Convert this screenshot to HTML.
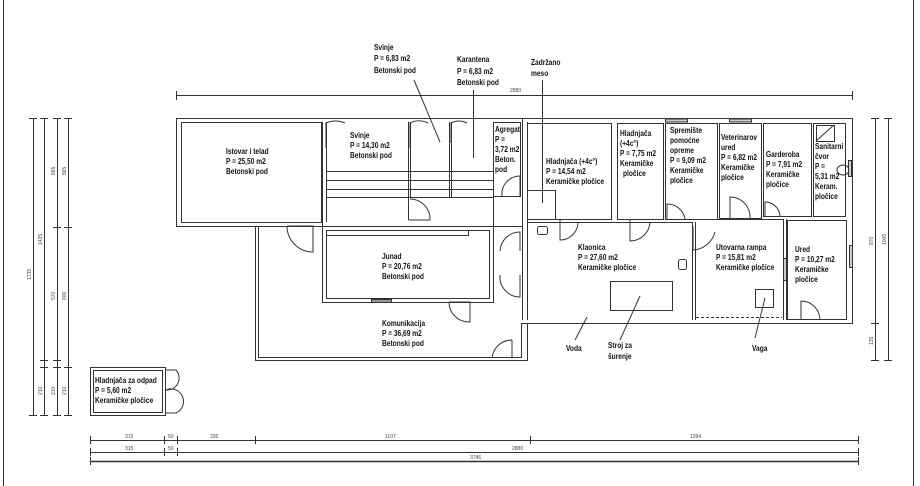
<!DOCTYPE html>
<html><head><meta charset="utf-8"><style>
html,body{margin:0;padding:0;background:#fff;}
svg{display:block;}
text{font-family:"Liberation Sans Narrow","Liberation Sans",sans-serif;font-size:8.5px;fill:#111;font-weight:bold;}
text:not(.d){transform-box:fill-box;transform-origin:0 50%;transform:scaleX(0.78);}
.d{font-size:5px;fill:#444;font-weight:normal;}
</style></head><body>
<svg width="920" height="486" viewBox="0 0 920 486" xmlns="http://www.w3.org/2000/svg">
<g fill="none" stroke="#333" stroke-width="1">
<line x1="3.5" y1="0" x2="3.5" y2="486"/>
<line x1="913.5" y1="0" x2="913.5" y2="486"/>
<line x1="176" y1="95.5" x2="853" y2="95.5"/>
<line x1="176.5" y1="91" x2="176.5" y2="100"/><line x1="852.5" y1="91" x2="852.5" y2="100"/>
<rect x="176.5" y="118.5" width="346" height="108"/>
<rect x="181.5" y="122.5" width="140" height="100"/>
<line x1="322.5" y1="122" x2="322.5" y2="227"/><line x1="326.5" y1="122" x2="326.5" y2="222"/>
<line x1="326" y1="171.5" x2="493" y2="171.5"/><line x1="326" y1="180.5" x2="493" y2="180.5"/><line x1="326" y1="189.5" x2="493" y2="189.5"/>
<line x1="326" y1="197.5" x2="493" y2="197.5"/>
<line x1="408.5" y1="122" x2="408.5" y2="197"/><line x1="410.5" y1="122" x2="410.5" y2="197"/>
<line x1="449.5" y1="122" x2="449.5" y2="197"/><line x1="451.5" y1="122" x2="451.5" y2="197"/>
<line x1="408.5" y1="197" x2="408.5" y2="220"/>
<rect x="493.5" y="122.5" width="27" height="74"/>
<rect x="322.5" y="226.5" width="171" height="76"/>
<rect x="326.5" y="230.5" width="163" height="68"/>
<line x1="326" y1="235.5" x2="468" y2="235.5"/><line x1="468.5" y1="230" x2="468.5" y2="236"/>
<rect x="371.5" y="299.5" width="20" height="3" fill="#999"/>
<polyline points="255.5,227 255.5,360.5 527.5,360.5 527.5,323"/>
<polyline points="258.5,227 258.5,357.5 521.5,357.5 521.5,323"/>
<line x1="493.5" y1="197" x2="493.5" y2="302"/>
<polyline points="520.5,118.5 852.5,118.5 852.5,323.5 521.5,323.5"/>
<line x1="522.5" y1="122" x2="522.5" y2="320"/>
<line x1="527.5" y1="122" x2="527.5" y2="320"/>
<rect x="527.5" y="123.5" width="84" height="96"/>
<rect x="527.5" y="190.5" width="28" height="29"/>
<rect x="617.5" y="123.5" width="46" height="96"/>
<rect x="665.5" y="123.5" width="52" height="96"/>
<rect x="719.5" y="123.5" width="42" height="95"/>
<rect x="763.5" y="123.5" width="48" height="93"/>
<rect x="813.5" y="123.5" width="32" height="93"/>
<rect x="816.5" y="125.5" width="18" height="16"/><line x1="816" y1="141" x2="834" y2="125"/>
<ellipse cx="843" cy="170" rx="6" ry="5"/>
<rect x="848.5" y="160.5" width="3" height="16" fill="#ccc"/>
<line x1="527" y1="222.5" x2="692" y2="222.5"/>
<line x1="692.5" y1="222" x2="692.5" y2="320"/><line x1="695.5" y1="222" x2="695.5" y2="320"/>
<line x1="695" y1="219.5" x2="783" y2="219.5"/>
<line x1="783.5" y1="219" x2="783.5" y2="320"/><line x1="786.5" y1="219" x2="786.5" y2="320"/>
<rect x="787.5" y="220.5" width="59" height="99"/>
<rect x="783.5" y="258.5" width="3" height="22" fill="#ccc"/>
<rect x="849.5" y="245.5" width="3" height="22" fill="#ccc"/>
<line x1="696" y1="317.5" x2="782" y2="317.5" stroke-dasharray="3,2"/>
<rect x="610.5" y="281.5" width="62" height="29"/>
<rect x="755.5" y="289.5" width="18" height="18"/>
<rect x="537.5" y="226.5" width="10" height="8" rx="2"/>
<rect x="678.5" y="259.5" width="8" height="10" rx="2"/>
<rect x="665.5" y="119" width="22" height="3" fill="#ccc"/>
<rect x="729.5" y="119" width="22" height="3" fill="#ccc"/>
<path d="M326 148 L326 123 A25 25 0 0 1 345 123"/>
<path d="M410 148 L410 123 A20 20 0 0 1 428 123"/>
<path d="M451 143 L451 123 A18 18 0 0 1 467 123"/>
<path d="M409 220 L430 220 A20 20 0 0 0 410 199"/>
<path d="M520 196 L520 176 A18 18 0 0 0 502 196"/>
<path d="M287 226 L313 226 L313 252 A26 26 0 0 1 287 226"/>
<path d="M520 251 L520 232 A20 20 0 0 0 500 251"/>
<path d="M520 275 L520 297 A20 20 0 0 1 500 275"/>
<path d="M449 302 L470 302 L470 322 A20 20 0 0 1 449 302"/>
<path d="M512 340 L512 358 M512 340 A20 20 0 0 0 492 358"/>
<path d="M560 220 L560 240 A18 18 0 0 0 578 223"/>
<path d="M630 220 L630 241 A20 20 0 0 0 650 222"/>
<path d="M667 219 L667 204 A18 18 0 0 1 685 219"/>
<path d="M730 218 L730 197 A20 20 0 0 1 750 218"/>
<path d="M765 216 L765 202 A15 15 0 0 1 780 216"/>
<path d="M693 226 L693 250 A24 24 0 0 0 715 232"/>
<path d="M801 320 L801 301 A19 19 0 0 1 820 320"/>
<rect x="90.5" y="367.5" width="75" height="48"/>
<rect x="93.5" y="370.5" width="69" height="42"/>
<path d="M166 370 L176 370 A12 12 0 0 1 166 390 A12 12 0 0 1 176 413 L166 413"/>
<line x1="414" y1="80" x2="440" y2="142"/>
<line x1="473.5" y1="90" x2="473.5" y2="158"/>
<line x1="542.5" y1="80" x2="542.5" y2="203"/>
<line x1="575" y1="340" x2="587" y2="317"/>
<line x1="620" y1="340" x2="640" y2="296"/>
<line x1="755" y1="338" x2="765" y2="298"/>
<g stroke="#333">
<line x1="33.5" y1="118" x2="33.5" y2="416"/><line x1="44.5" y1="118" x2="44.5" y2="416"/>
<line x1="57.5" y1="118" x2="57.5" y2="416"/><line x1="68.5" y1="118" x2="68.5" y2="416"/>
<path d="M29 118.5h8M40 118.5h8M53 118.5h8M64 118.5h8M29 415.5h8M40 415.5h8M53 415.5h8M64 415.5h8M53 227.5h8M64 227.5h8M40 360.5h8M53 360.5h8M40 367.5h8M53 367.5h8M64 367.5h8"/>
<line x1="875.5" y1="118" x2="875.5" y2="361"/><line x1="888.5" y1="118" x2="888.5" y2="361"/>
<path d="M871 118.5h8M884 118.5h8M871 360.5h8M884 360.5h8M871 323.5h8"/>
<line x1="90" y1="440.5" x2="859" y2="440.5"/>
<line x1="90" y1="452.5" x2="859" y2="452.5"/>
<line x1="90" y1="461.5" x2="859" y2="461.5" stroke-width="1.5"/>
<path d="M90.5 436v8M90.5 448v8M90.5 457v8M858.5 436v8M858.5 448v8M858.5 457v8M164.5 436v8M164.5 448v8M177.5 436v8M177.5 448v8M255.5 436v8M530.5 436v8"/>
</g>
</g>
<g>
<text class="d" x="510" y="92">2880</text>
<text class="d" x="125" y="438">315</text><text class="d" x="168" y="438">50</text><text class="d" x="210" y="438">335</text><text class="d" x="385" y="438">1107</text><text class="d" x="690" y="438">1394</text>
<text class="d" x="125" y="450">315</text><text class="d" x="168" y="450">50</text><text class="d" x="512" y="450">2880</text>
<text class="d" x="470" y="459">3746</text>
<text class="d" transform="translate(31,280) rotate(-90)">1735</text>
<text class="d" transform="translate(42,245) rotate(-90)">1435</text>
<text class="d" transform="translate(55,175) rotate(-90)">865</text>
<text class="d" transform="translate(66,175) rotate(-90)">865</text>
<text class="d" transform="translate(55,300) rotate(-90)">570</text>
<text class="d" transform="translate(66,300) rotate(-90)">600</text>
<text class="d" transform="translate(42,395) rotate(-90)">210</text>
<text class="d" transform="translate(55,395) rotate(-90)">210</text>
<text class="d" transform="translate(66,395) rotate(-90)">210</text>
<text class="d" transform="translate(873,245) rotate(-90)">870</text>
<text class="d" transform="translate(886,245) rotate(-90)">1005</text>
<text class="d" transform="translate(873,345) rotate(-90)">135</text>
</g>
<g>
<text x="226" y="154">Istovar i telad</text><text x="226" y="164">P = 25,50 m2</text><text x="226" y="174">Betonski pod</text>
<text x="350" y="138">Svinje</text><text x="350" y="148">P = 14,30 m2</text><text x="350" y="158">Betonski pod</text>
<text x="495" y="132">Agregat</text><text x="495" y="142">P =</text><text x="495" y="152">3,72 m2</text><text x="495" y="162">Beton.</text><text x="495" y="172">pod</text>
<text x="382" y="259">Junad</text><text x="382" y="269">P = 20,76 m2</text><text x="382" y="279">Betonski pod</text>
<text x="382" y="326">Komunikacija</text><text x="382" y="336">P = 36,69 m2</text><text x="382" y="346">Betonski pod</text>
<text x="546" y="164">Hladnjača (+4c°)</text><text x="546" y="174">P = 14,54 m2</text><text x="546" y="184">Keramičke pločice</text>
<text x="620" y="136">Hladnjača</text><text x="620" y="146">(+4c°)</text><text x="620" y="156">P = 7,75 m2</text><text x="620" y="166">Keramičke</text><text x="623" y="176">pločice</text>
<text x="670" y="133">Spremište</text><text x="670" y="143">pomoćne</text><text x="670" y="153">opreme</text><text x="670" y="163">P = 9,09 m2</text><text x="670" y="173">Keramičke</text><text x="670" y="183">pločice</text>
<text x="721" y="140">Veterinarov</text><text x="721" y="150">ured</text><text x="721" y="160">P = 6,82 m2</text><text x="721" y="170">Keramičke</text><text x="721" y="180">pločice</text>
<text x="766" y="157">Garderoba</text><text x="766" y="167">P = 7,91 m2</text><text x="766" y="177">Keramičke</text><text x="766" y="187">pločice</text>
<text x="815" y="149">Sanitarni</text><text x="815" y="159">čvor</text><text x="815" y="169">P =</text><text x="815" y="179">5,31 m2</text><text x="815" y="189">Keram.</text><text x="815" y="199">pločice</text>
<text x="578" y="250">Klaonica</text><text x="578" y="260">P = 27,60 m2</text><text x="578" y="270">Keramičke pločice</text>
<text x="716" y="250">Utovarna rampa</text><text x="716" y="260">P = 15,81 m2</text><text x="716" y="270">Keramičke pločice</text>
<text x="795" y="252">Ured</text><text x="795" y="262">P = 10,27 m2</text><text x="795" y="272">Keramičke</text><text x="795" y="282">pločice</text>
<text x="374" y="50">Svinje</text><text x="374" y="61">P = 6,83 m2</text><text x="374" y="73">Betonski pod</text>
<text x="457" y="62">Karantena</text><text x="457" y="74">P = 6,83 m2</text><text x="457" y="85">Betonski pod</text>
<text x="531" y="65">Zadržano</text><text x="531" y="76">meso</text>
<text x="566" y="351">Voda</text>
<text x="608" y="348">Stroj za</text><text x="608" y="359">šurenje</text>
<text x="752" y="351">Vaga</text>
<text x="95" y="383">Hladnjača za odpad</text><text x="95" y="393">P = 5,60 m2</text><text x="95" y="403">Keramičke pločice</text>
</g>
</svg>
</body></html>
